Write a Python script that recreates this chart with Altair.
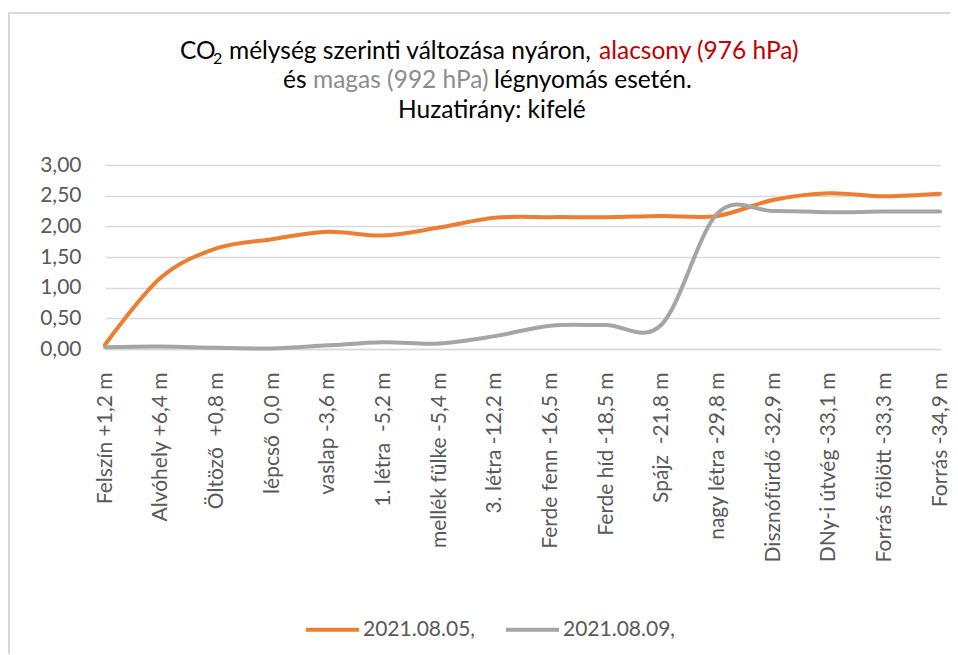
import altair as alt
import pandas as pd

categories = ["Felszín +1,2 m", "Alvóhely +6,4 m", "Öltöző \u00a0+0,8 m", "lépcső \u00a00,0 m",
              "vaslap -3,6 m", "1. létra \u00a0-5,2 m", "mellék fülke -5,4 m", "3. létra -12,2 m",
              "Ferde fenn -16,5 m", "Ferde híd -18,5 m", "Spájz \u00a0-21,8 m", "nagy létra -29,8 m",
              "Disznófürdő -32,9 m", "DNy-i útvég -33,1 m", "Forrás fölött -33,3 m", "Forrás -34,9 m"]
series_names = ["2021.08.05,", "2021.08.09,"]
values_0805 = [0.07, 1.16, 1.64, 1.79, 1.91, 1.85, 1.98, 2.14, 2.15, 2.15, 2.17, 2.17, 2.43, 2.54, 2.49, 2.53]
values_0809 = [0.03, 0.04, 0.02, 0.01, 0.06, 0.11, 0.09, 0.21, 0.38, 0.39, 0.40, 2.21, 2.25, 2.23, 2.24, 2.24]
y_ticks = [0, 0.5, 1.0, 1.5, 2.0, 2.5, 3.0]

rows = []
for s, vals in zip(series_names, [values_0805, values_0809]):
    for i, (c, v) in enumerate(zip(categories, vals)):
        rows.append({"cat": c, "val": v, "series": s, "order": i})
df = pd.DataFrame(rows)

FONT = "Lato"
TFS = 24.5
PLOT_X0, PLOT_Y0 = 105, 165
W, H = 835, 184

lines = alt.Chart(df).mark_line(
    interpolate="cardinal", tension=0, strokeWidth=4, strokeCap="round", strokeJoin="round"
).encode(
    x=alt.X("cat:N", sort=categories, title=None,
            scale=alt.Scale(type="point", padding=0),
            axis=alt.Axis(labelAngle=-90, labelFontSize=21, labelColor="#595959", labelFont=FONT,
                          ticks=False, labelPadding=23, domainColor="#d9d9d9", domainWidth=1.5,
                          gridColor="#d9d9d9", gridWidth=1.5, labelLimit=300)),
    y=alt.Y("val:Q", title=None, scale=alt.Scale(domain=[0, 3], nice=False),
            axis=alt.Axis(values=y_ticks, labelExpr="replace(format(datum.value, '.2f'), '.', ',')",
                          labelFontSize=21, labelColor="#595959", labelFont=FONT, ticks=False,
                          domain=False, labelPadding=24, gridColor="#d9d9d9", gridWidth=1.5)),
    color=alt.Color("series:N", sort=series_names,
                    scale=alt.Scale(domain=series_names, range=["#ED7D31", "#A5A5A5"]),
                    legend=alt.Legend(orient="none", legendX=199, legendY=436, direction="horizontal",
                                      title=None, symbolType="stroke", symbolStrokeWidth=4,
                                      symbolSize=2809, labelFontSize=21, labelColor="#595959",
                                      labelFont=FONT, columnPadding=22, labelOffset=2, padding=0)),
    order="order:Q",
)


def txt(text, px, py, size=TFS, color="#000000", align="left"):
    return alt.Chart(alt.Data(values=[{}])).mark_text(
        align=align, baseline="alphabetic", fontSize=size, font=FONT, color=color
    ).encode(x=alt.value(px - PLOT_X0), y=alt.value(py - PLOT_Y0), text=alt.value(text))


frame = alt.Chart(alt.Data(values=[{}])).mark_rect(
    fill="transparent", stroke="#d9d9d9", strokeWidth=2
).encode(x=alt.value(9 - PLOT_X0), x2=alt.value(1100), y=alt.value(13 - PLOT_Y0), y2=alt.value(700))

title_layers = [
    txt("CO", 180, 59),
    txt("2", 213, 64, size=16),
    txt("mélység szerinti változása nyáron,", 229, 59),
    txt("alacsony (976 hPa)", 599, 59, color="#C00000"),
    txt("és", 283, 88),
    txt("magas (992 hPa)", 313, 88, color="#8C8C8C"),
    txt("légnyomás esetén.", 494, 88),
    txt("Huzatirány: kifelé", 398, 118),
]

chart = alt.layer(frame, lines, *title_layers).properties(
    width=W, height=H,
    autosize=alt.AutoSizeParams(type="none"),
    padding={"left": PLOT_X0 - 8, "top": PLOT_Y0 - 8, "right": 10, "bottom": 305},
).configure_view(strokeWidth=0)

chart.save("out.html", embed_options={"renderer": "svg", "actions": False})
